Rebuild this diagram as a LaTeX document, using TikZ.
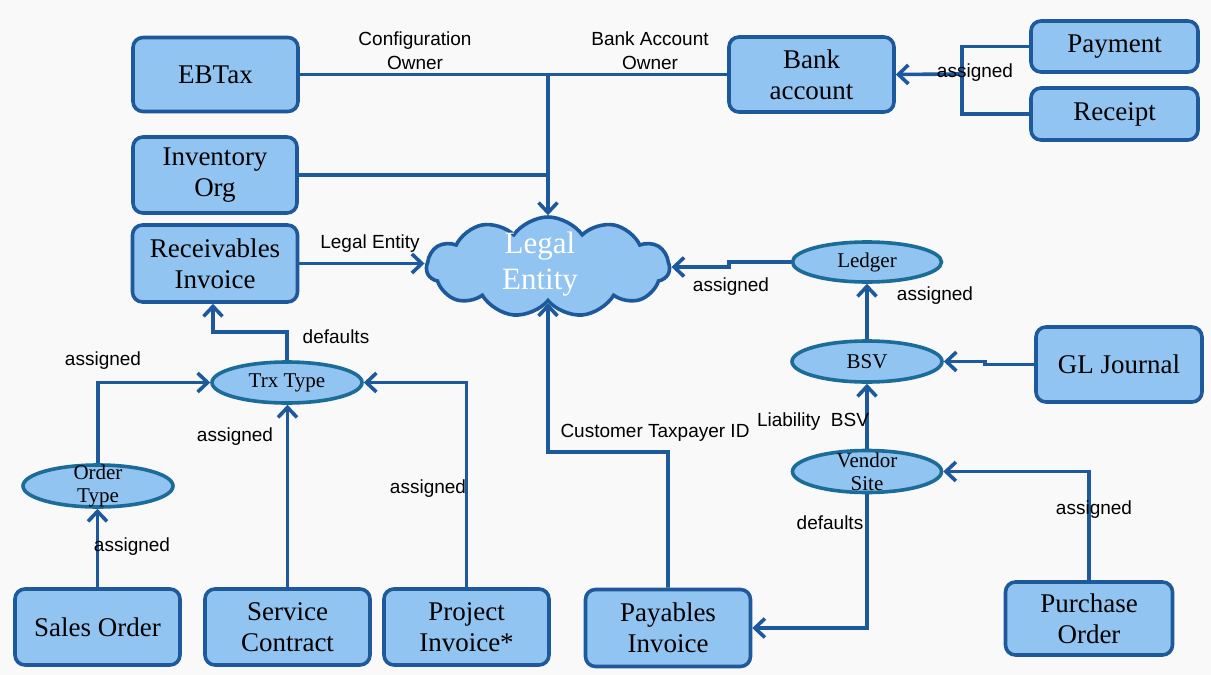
\documentclass[tikz,border=0pt]{standalone}
\usepackage{fontspec}
\setmainfont{Liberation Serif}
\newfontfamily\labelfont{Liberation Sans}
\usetikzlibrary{shapes.geometric,shapes.symbols,arrows.meta}
\definecolor{lineblue}{RGB}{30,90,155}
\definecolor{fillblue}{RGB}{146,196,242}
\definecolor{ellline}{RGB}{27,108,152}
\definecolor{bgcol}{RGB}{249,249,249}
\begin{document}
\begin{tikzpicture}[x=1pt,y=-1pt,
  box/.style={draw=lineblue, fill=fillblue, line width=3.6pt, rounded corners=10pt, inner sep=2pt, align=center, font=\fontsize{27}{31}\selectfont},
  oval/.style={ellipse, draw=ellline, fill=fillblue, line width=3.6pt, inner sep=0pt},
  ovaltext/.style={font=\fontsize{21}{23}\selectfont, align=center, inner sep=0pt},
  conn/.style={draw=lineblue, line width=3.6pt, line join=miter},
  arr/.style={conn, -{Straight Barb[length=10pt,width=19pt]}},
  lbl/.style={font=\labelfont\fontsize{19}{24}\selectfont, align=center, inner sep=0pt, text=black},
]
\fill[bgcol] (0,0) rectangle (1211,675);
\useasboundingbox (0,0) rectangle (1211,675);

% boxes
\node[box, minimum width=165, minimum height=74] (ebtax) at (215.5,74.5) {EBTax};
\node[box, minimum width=165, minimum height=75] (bank) at (811.5,74.5) {Bank\\account};
\node[box, minimum width=167, minimum height=51] (pay) at (1114.5,46.5) {Payment};
\node[box, minimum width=167, minimum height=52] (rec) at (1114.5,114) {Receipt};
\node[box, minimum width=164, minimum height=76] (inv) at (215,175) {Inventory\\Org};
\node[box, minimum width=165, minimum height=77] (recv) at (215,263.5) {Receivables\\Invoice};
\node[box, minimum width=166, minimum height=75] (gl) at (1119,364.5) {GL Journal};
\node[box, minimum width=167, minimum height=73] (po) at (1089,618.5) {Purchase\\Order};
\node[box, minimum width=165, minimum height=76] (so) at (97.5,627) {Sales Order};
\node[box, minimum width=165, minimum height=76] (sc) at (287.5,627) {Service\\Contract};
\node[box, minimum width=165, minimum height=76] (pi) at (466.5,627) {Project\\Invoice*};
\node[box, minimum width=165, minimum height=77] (api) at (668,628) {Payables\\Invoice};

% ellipses
\node[oval, minimum width=149, minimum height=40] (ledger) at (867,262) {};
\node[ovaltext] (ledgert) at (ledger) {Ledger};
\node[oval, minimum width=150, minimum height=41] (bsv) at (867,361.5) {};
\node[ovaltext] (bsvt) at (bsv) {BSV};
\node[oval, minimum width=149, minimum height=42] (vsite) at (867,471.5) {};
\node[ovaltext] (vsitet) at (vsite) {Vendor\\Site};
\node[oval, minimum width=150, minimum height=41] (trx) at (287,382.5) {};
\node[ovaltext] (trxt) at (trx) {Trx Type};
\node[oval, minimum width=150, minimum height=42] (otype) at (98,486) {};
\node[ovaltext] (otypet) at (otype) {Order\\Type};

% cloud
\node[cloud, cloud puffs=11, cloud puff arc=110, cloud ignores aspect, draw=lineblue, fill=fillblue, line width=3.6pt, minimum width=243, minimum height=100, inner sep=0pt] (cloud) at (548,267) {};
\node[font=\fontsize{31}{36}\selectfont, text=white, align=center, inner sep=0pt] (cloudt) at (540,264) {Legal\\Entity};

% connectors
\coordinate (j1) at (548,74);
\coordinate (j2) at (962,74);
\coordinate (j3) at (548,452);
\coordinate (j4) at (213,332);
\draw[conn] (ebtax.east) -- (bank.west);
\draw[arr] (j1) -- (cloud.north);
\draw[conn] (inv.east) -- (inv.east -| j1);
\draw[arr] (recv.east) -- (recv.east -| cloud.west);
\draw[conn] (pay.west) -- (pay.west -| j2) -- (rec.west -| j2) -- (rec.west);
\draw[arr] (j2) -- (bank.east);
\draw[arr] (ledger.west) -- ++(-62,0) |- (cloud.east);
\draw[arr] (bsv.north) -- (ledger.south);
\draw[arr] (gl.west) -- ++(-49,0) |- (bsv.east);
\draw[arr] (vsite.north) -- (bsv.south);
\draw[arr] (vsite.south) |- (api.east);
\draw[arr] (po.north) |- (vsite.east);
\draw[arr] (api.north) |- (j3) -- (cloud.south);
\draw[arr] (trx.north) |- (j4) -- (recv.south -| j4);
\draw[arr] (otype.north) |- (trx.west);
\draw[arr] (so.north) -- (so.north |- otype.south);
\draw[arr] (sc.north) -- (sc.north |- trx.south);
\draw[arr] (pi.north) |- (trx.east);

% labels
\node[lbl] (l1) at (415,51) {Configuration\\Owner};
\node[lbl] (l2) at (650,51) {Bank Account\\Owner};
\node[lbl] (l3) at (370,244) {Legal Entity};
\node[lbl] (l4) at (975,73) {assigned};
\node[lbl] (l5) at (731,287) {assigned};
\node[lbl] (l6) at (935,296) {assigned};
\node[lbl] (l7) at (336,337) {defaults};
\node[lbl] (l8) at (103,361) {assigned};
\node[lbl] (l9) at (235,437) {assigned};
\node[lbl] (l10) at (428,489) {assigned};
\node[lbl] (l11) at (132,547) {assigned};
\node[lbl] (l12) at (655,433) {Customer Taxpayer ID};
\node[lbl] (l13) at (813,422) {Liability\ \ BSV};
\node[lbl] (l14) at (830,523) {defaults};
\node[lbl] (l15) at (1094,510) {assigned};
\end{tikzpicture}
\end{document}
